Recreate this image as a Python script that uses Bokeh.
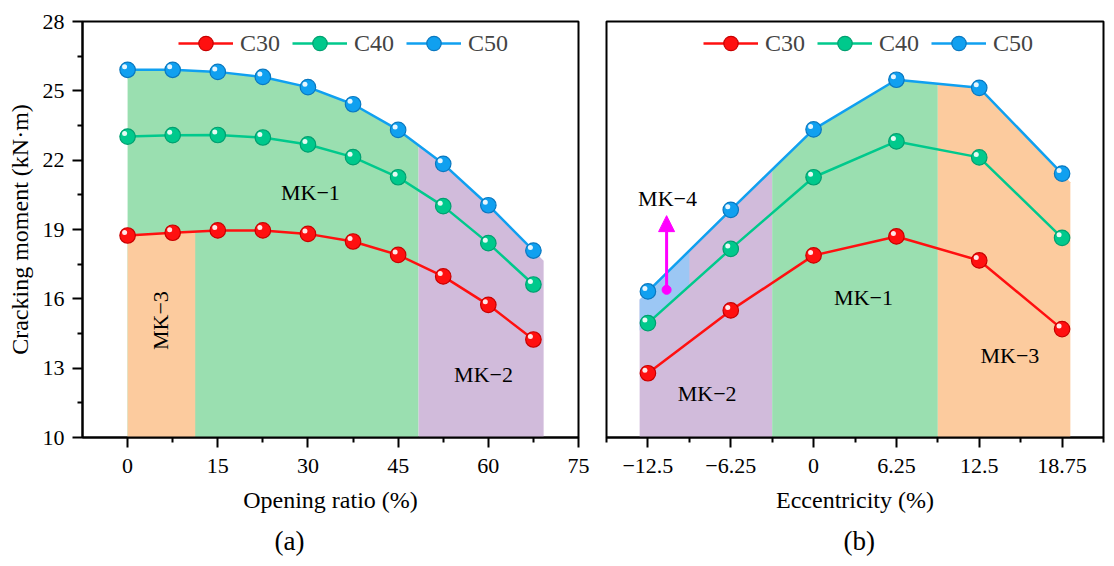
import numpy as np
from bokeh.plotting import figure
from bokeh.layouts import row
from bokeh.models import (ColumnDataSource, FixedTicker, Legend, LegendItem, Title,
                          Arrow, NormalHead, Range1d)
from bokeh.transform import dodge
from bokeh.core.properties import value
from bokeh.embed import file_html
from bokeh.resources import INLINE

# ---------------- data: panel (a) ----------------
opening_ratio = [0, 7.5, 15, 22.5, 30, 37.5, 45, 52.5, 60, 67.5]
a_c30 = [18.74, 18.86, 18.96, 18.96, 18.81, 18.48, 17.90, 16.97, 15.74, 14.24]
a_c40 = [23.02, 23.08, 23.09, 22.98, 22.68, 22.13, 21.26, 20.01, 18.41, 16.62]
a_c50 = [25.91, 25.91, 25.82, 25.60, 25.16, 24.42, 23.31, 21.84, 20.05, 18.09]
a_x_ticks = [0, 15, 30, 45, 60, 75]
a_x_minor = [7.5, 22.5, 37.5, 52.5, 67.5]
# failure-mode zones (x limits)
a_mk3 = (0, 11.25)
a_mk1 = (0, 48.4)
a_mk2 = (48.4, 69.2)

# ---------------- data: panel (b) ----------------
eccentricity = [-12.5, -6.25, 0, 6.25, 12.5, 18.75]
b_c30 = [12.78, 15.50, 17.88, 18.70, 17.66, 14.69]
b_c40 = [14.95, 18.16, 21.26, 22.81, 22.12, 18.64]
b_c50 = [16.32, 19.85, 23.33, 25.48, 25.13, 21.42]
b_x_ticks = [-12.5, -6.25, 0, 6.25, 12.5, 18.75]
b_x_labels = ["\u221212.5", "\u22126.25", "0", "6.25", "12.5", "18.75"]
b_x_minor = [-15.625, -9.375, -3.125, 3.125, 9.375, 15.625, 21.875]
b_mk2 = (-13.125, -3.125)
b_mk4 = (-13.125, -9.375)
b_mk1 = (-3.125, 9.375)
b_mk3 = (9.375, 19.375)
arrow_x, arrow_y0, arrow_y1 = -11.09, 16.39, 19.6

y_ticks = [10, 13, 16, 19, 22, 25, 28]
y_minor = [11.5, 14.5, 17.5, 20.5, 23.5, 26.5]

RED, GREEN, BLUE = "#FF1010", "#00C98C", "#10A0F0"
RED_E, GREEN_E, BLUE_E = "#C80000", "#00A070", "#0A78C0"
F_GREEN, F_ORANGE, F_PURPLE, F_BLUE = "#9ADFB0", "#FCCB9E", "#D1BBDB", "#9CC7F4"
FONT = "Liberation Serif"


def lin(xs, ys, x):
    xs = np.asarray(xs, float)
    ys = np.asarray(ys, float)
    if x <= xs[0]:
        i = 0
    elif x >= xs[-1]:
        i = len(xs) - 2
    else:
        i = int(np.searchsorted(xs, x)) - 1
    return ys[i] + (ys[i + 1] - ys[i]) * (x - xs[i]) / (xs[i + 1] - xs[i])


def band(xs, ys, lim):
    x0, x1 = lim
    bx = [x0] + [x for x in xs if x0 < x < x1] + [x1]
    return bx, [lin(xs, ys, x) for x in bx]


def make_fig(xr, width, mbl, mbr, yaxis):
    p = figure(width=width, height=565, x_range=Range1d(*xr), y_range=Range1d(10, 28),
               output_backend="svg", toolbar_location=None,
               y_axis_location="left" if yaxis else None,
               min_border_left=mbl, min_border_right=mbr, min_border_top=21,
               min_border_bottom=128)
    p.xgrid.visible = False
    p.ygrid.visible = False
    p.outline_line_color = "black"
    p.outline_line_width = 2
    p.outline_line_alpha = 1
    p.background_fill_color = "white"
    p.border_fill_color = "white"
    for ax in p.axis:
        ax.axis_label_text_font = FONT
        ax.axis_label_text_font_size = "24px"
        ax.axis_label_text_font_style = "normal"
        ax.axis_label_text_color = "black"
        ax.major_label_text_font = FONT
        ax.major_label_text_font_size = "22px"
        ax.major_label_text_color = "black"
        ax.axis_line_width = 2
        ax.major_tick_line_width = 2
        ax.minor_tick_line_width = 2
        ax.major_tick_out = 10
        ax.major_tick_in = 0
        ax.minor_tick_out = 5
        ax.minor_tick_in = 0
    for ax in p.xaxis:
        ax.major_label_standoff = 11
        ax.axis_label_standoff = 11
    for ax in p.yaxis:
        ax.major_label_standoff = 8
        ax.axis_label_standoff = 7
    return p


def series(p, xs, ys, color, edge, dx, dy):
    src = ColumnDataSource(dict(x=xs, y=ys))
    ln = p.line("x", "y", source=src, line_color=color, line_width=2.5)
    sc = p.scatter("x", "y", source=src, size=15.5, fill_color=color,
                   line_color=edge, line_width=1.2)
    p.scatter(x=dodge("x", dx), y=dodge("y", dy), source=src, size=5,
              fill_color="white", line_color=None, fill_alpha=0.9)
    return [ln, sc]


def legend(p, items, xloc):
    leg = Legend(items=[LegendItem(label=l, renderers=r) for l, r in items],
                 orientation="horizontal", location=(xloc, 376),
                 border_line_color=None, background_fill_alpha=0,
                 padding=0, margin=0, glyph_width=55, glyph_height=36,
                 label_standoff=7, spacing=12, label_text_font=FONT,
                 label_text_font_size="24px")
    p.add_layout(leg)


def mk_text(p, xs, ys, texts, angle=0.0):
    p.text(x=xs, y=ys, text=texts, angle=angle, text_font=value(FONT),
           text_font_size="22px", text_align="center", text_baseline="middle",
           text_color="black")


def panel_title(p, txt, offset):
    p.add_layout(Title(text=txt, align="left", offset=offset, text_font=FONT,
                       text_font_size="27px", text_font_style="normal",
                       text_color="black", standoff=17), "below")


# ---------------- panel (a) ----------------
pa = make_fig((-7.5, 75), 592, 82, 14, True)
pa.xaxis.axis_label = "Opening ratio (%)"
pa.yaxis.axis_label = "Cracking moment (kN\u00b7m)"
pa.xaxis.ticker = FixedTicker(ticks=a_x_ticks, minor_ticks=a_x_minor)
pa.yaxis.ticker = FixedTicker(ticks=y_ticks, minor_ticks=y_minor)

bx, by = band(opening_ratio, a_c50, a_mk1)
pa.varea(x=bx, y1=10, y2=by, fill_color=F_GREEN)
bx, by = band(opening_ratio, a_c30, a_mk3)
pa.varea(x=bx, y1=10, y2=by, fill_color=F_ORANGE)
bx, by = band(opening_ratio, a_c50, a_mk2)
pa.varea(x=bx, y1=10, y2=by, fill_color=F_PURPLE)

mk_text(pa, [30.4], [20.6], ["MK\u22121"])
mk_text(pa, [59.2], [12.72], ["MK\u22122"])
mk_text(pa, [5.45], [15.06], ["MK\u22123"], angle=np.pi / 2)

ra30 = series(pa, opening_ratio, a_c30, RED, RED_E, -0.5, 0.13)
ra40 = series(pa, opening_ratio, a_c40, GREEN, GREEN_E, -0.5, 0.13)
ra50 = series(pa, opening_ratio, a_c50, BLUE, BLUE_E, -0.5, 0.13)
legend(pa, [("C30", ra30), ("C40", ra40), ("C50", ra50)], 96)
panel_title(pa, "(a)", 192)

# ---------------- panel (b) ----------------
pb = make_fig((-15.625, 21.875), 514, 14, 3, False)
pb.xaxis.axis_label = "Eccentricity (%)"
pb.xaxis.ticker = FixedTicker(ticks=b_x_ticks, minor_ticks=b_x_minor)
pb.xaxis.major_label_overrides = {t: s for t, s in zip(b_x_ticks, b_x_labels)}

bx, by = band(eccentricity, b_c50, b_mk2)
pb.varea(x=bx, y1=10, y2=by, fill_color=F_PURPLE)
bx, by = band(eccentricity, b_c50, b_mk4)
_, by40 = band(eccentricity, b_c40, b_mk4)
pb.varea(x=bx, y1=by40, y2=by, fill_color=F_BLUE)
bx, by = band(eccentricity, b_c50, b_mk1)
pb.varea(x=bx, y1=10, y2=by, fill_color=F_GREEN)
bx, by = band(eccentricity, b_c50, b_mk3)
pb.varea(x=bx, y1=10, y2=by, fill_color=F_ORANGE)

mk_text(pb, [-11.02, 3.77, -8.03, 14.81], [20.36, 16.07, 11.89, 13.55],
        ["MK\u22124", "MK\u22121", "MK\u22122", "MK\u22123"])

rb30 = series(pb, eccentricity, b_c30, RED, RED_E, -0.226, 0.13)
rb40 = series(pb, eccentricity, b_c40, GREEN, GREEN_E, -0.226, 0.13)
rb50 = series(pb, eccentricity, b_c50, BLUE, BLUE_E, -0.226, 0.13)

pb.add_layout(Arrow(end=NormalHead(size=16, fill_color="#FF00FF", line_color="#FF00FF"),
                    x_start=arrow_x, y_start=arrow_y0, x_end=arrow_x, y_end=arrow_y1,
                    line_color="#FF00FF", line_width=3))
pb.scatter([arrow_x], [arrow_y0], size=9, fill_color="#FF00FF", line_color="#FF00FF")
legend(pb, [("C30", rb30), ("C40", rb40), ("C50", rb50)], 97)
panel_title(pb, "(b)", 237)

layout = row(pa, pb)
open("out.html", "w").write(file_html(layout, INLINE))
